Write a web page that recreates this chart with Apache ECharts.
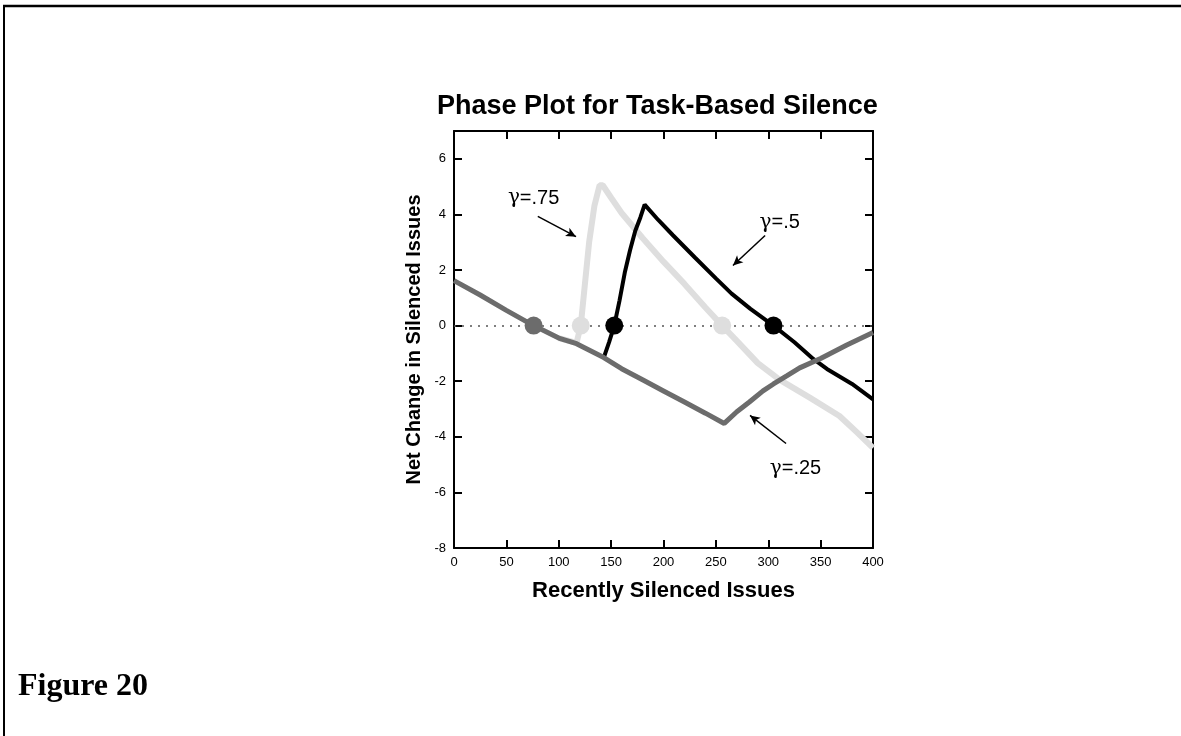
<!DOCTYPE html>
<html>
<head>
<meta charset="utf-8">
<title>Phase Plot for Task-Based Silence</title>
<script src="https://cdn.jsdelivr.net/npm/echarts@6/dist/echarts.min.js"></script>
<style>
    html, body { margin: 0; padding: 0; background: #fff; }
    #chart { width: 1181px; height: 736px; }
</style>
</head>
<body>
<div id="chart"></div>
<script>
// curves, [recently silenced, net change]
var gamma25 = [[0, 1.62], [25, 1.1], [50, 0.55], [76, 0], [100, -0.45], [117, -0.65], [143, -1.15],
    [160, -1.55], [180, -1.95], [200, -2.35], [220, -2.75], [240, -3.15], [258, -3.52], [270, -3.1],
    [282, -2.75], [295, -2.35], [305, -2.1], [318, -1.8], [330, -1.52], [350, -1.18], [375, -0.7], [400, -0.25]];
var gamma75 = [[100, -0.45], [117, -0.62], [121, 0], [125, 1.5], [129, 3.0], [134, 4.3], [139, 5.05],
    [142, 5.05], [150, 4.6], [160, 4.05], [170, 3.6], [180, 3.15], [200, 2.3], [220, 1.5], [240, 0.65],
    [256, 0], [270, -0.55], [290, -1.35], [311, -1.95], [340, -2.6], [368, -3.25], [385, -3.85], [400, -4.4]];
var gamma5 = [[143, -1.15], [148, -0.6], [153, 0], [158, 0.9], [163, 1.9], [168, 2.7], [173, 3.4],
    [178, 3.9], [182, 4.35], [195, 3.8], [209, 3.25], [230, 2.45], [250, 1.7], [265, 1.15], [283, 0.6],
    [305, 0], [325, -0.6], [343, -1.2], [356, -1.56], [380, -2.1], [400, -2.65]];

// equilibrium points on the zero line
var eq25 = [[76, 0]];
var eq75 = [[121, 0], [256, 0]];
var eq5 = [[153, 0], [305, 0]];

// labels and arrows (data coords)
var labels = [['.75', 76, 4.58], ['.5', 311, 3.71], ['.25', 326, -5.14]];
var arrows = [[80, 3.93, 116.5, 3.2], [297, 3.24, 266.3, 2.16], [317, -4.24, 282.6, -3.23]];

var fontSans = "'Liberation Sans', Arial, Helvetica, sans-serif";

var chart = echarts.init(document.getElementById('chart'));

function axisCommon(showLabel) {
    return {
        axisLine: { show: true, onZero: false, lineStyle: { color: '#000', width: 2 } },
        axisTick: { show: true, inside: true, length: 8, lineStyle: { color: '#000', width: 2 } },
        axisLabel: { show: showLabel, color: '#000', fontSize: 13, fontFamily: fontSans, margin: 8 },
        splitLine: { show: false }
    };
}

var xBottom = Object.assign(axisCommon(true), {
    type: 'value', min: 0, max: 400, interval: 50, position: 'bottom',
    name: 'Recently Silenced Issues', nameLocation: 'middle', nameGap: 32,
    nameTextStyle: { color: '#000', fontSize: 22, fontWeight: 'bold', fontFamily: fontSans }
});
var xTop = Object.assign(axisCommon(false), { type: 'value', min: 0, max: 400, interval: 50, position: 'top' });
var yLeft = Object.assign(axisCommon(true), {
    type: 'value', min: -8, max: 7, interval: 2, position: 'left',
    name: 'Net Change in Silenced Issues', nameLocation: 'middle', nameGap: 30,
    nameTextStyle: { color: '#000', fontSize: 20, fontWeight: 'bold', fontFamily: fontSans }
});
yLeft.axisLabel.formatter = function (v) { return v % 2 === 0 ? String(v) : ''; };
var yRight = Object.assign(axisCommon(false), { type: 'value', min: -8, max: 7, interval: 2, position: 'right' });

var option = {
    animation: false,
    backgroundColor: '#fff',
    title: {
        text: 'Phase Plot for Task-Based Silence',
        left: 432, top: 88,
        textStyle: { color: '#000', fontSize: 27, fontWeight: 'bold', fontFamily: fontSans }
    },
    grid: { left: 454, right: 308, top: 131, bottom: 188, containLabel: false },
    xAxis: [xBottom, xTop],
    yAxis: [yLeft, yRight],
    graphic: [
        { type: 'line', shape: { x1: 3, y1: 6, x2: 1181, y2: 6 }, style: { stroke: '#000', lineWidth: 2.5 } },
        { type: 'line', shape: { x1: 4, y1: 6, x2: 4, y2: 736 }, style: { stroke: '#000', lineWidth: 2 } },
        { type: 'text', left: 18, top: 671,
          style: { text: 'Figure 20', fill: '#000', font: "bold 32px 'Liberation Serif', 'Times New Roman', serif" } }
    ],
    series: [
        {
            name: 'γ=.75', type: 'line', data: gamma75, showSymbol: false, z: 2,
            lineStyle: { color: '#dedede', width: 6 },
            markLine: {
                silent: true, symbol: ['none', 'none'],
                lineStyle: { color: '#555', width: 1.6, type: [2, 6] },
                label: { show: false },
                data: [{ yAxis: 0 }]
            }
        },
        {
            name: 'γ=.5', type: 'line', data: gamma5, showSymbol: false, z: 3,
            lineStyle: { color: '#000', width: 4 }
        },
        {
            name: 'γ=.25', type: 'line', data: gamma25, showSymbol: false, z: 4,
            lineStyle: { color: '#6c6c6c', width: 5 }
        },
        { type: 'scatter', data: eq75, symbolSize: 18, z: 5, itemStyle: { color: '#dedede', opacity: 1 } },
        { type: 'scatter', data: eq5, symbolSize: 18, z: 5, itemStyle: { color: '#000', opacity: 1 } },
        { type: 'scatter', data: eq25, symbolSize: 18, z: 5, itemStyle: { color: '#6c6c6c', opacity: 1 } },
        {
            type: 'scatter', data: [], z: 6,
            markLine: {
                silent: true, symbol: ['none', 'arrow'], symbolSize: [7, 10],
                lineStyle: { color: '#000', width: 1.5, type: 'solid' },
                label: { show: false },
                data: arrows.map(function (a) { return [{ coord: [a[0], a[1]] }, { coord: [a[2], a[3]] }]; })
            },
            markPoint: {
                silent: true, symbol: 'circle', symbolSize: 1,
                itemStyle: { color: 'rgba(0,0,0,0)' },
                label: {
                    show: true, position: 'inside', color: '#000', fontSize: 20, fontFamily: fontSans,
                    formatter: function (p) { return '{g|γ}=' + p.name; },
                    rich: { g: { fontSize: 20, fontFamily: "'DejaVu Serif', serif", color: '#000' } }
                },
                data: labels.map(function (l) { return { name: l[0], coord: [l[1], l[2]] }; })
            }
        }
    ]
};

chart.setOption(option);
</script>
</body>
</html>
